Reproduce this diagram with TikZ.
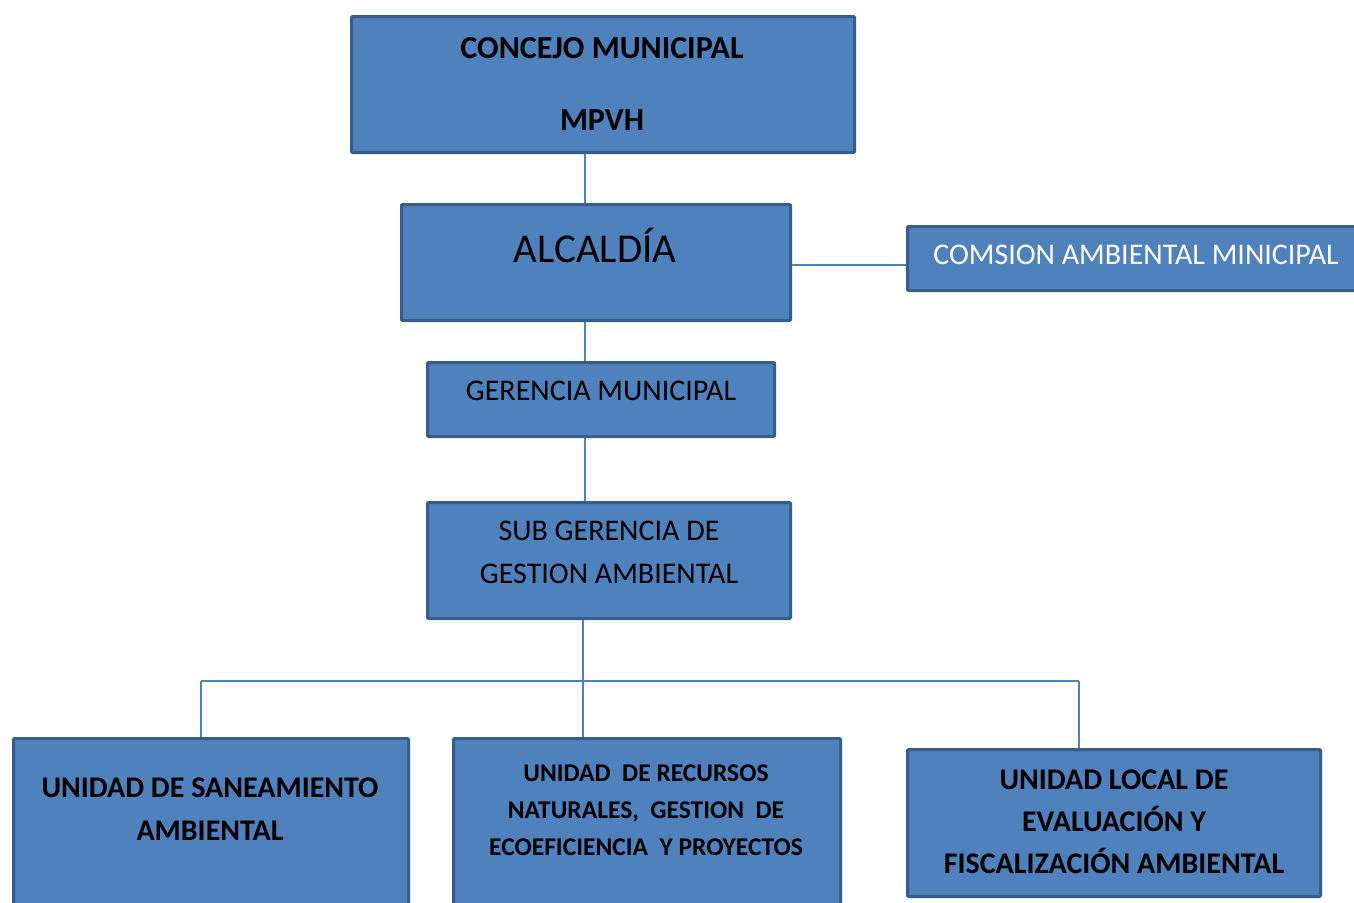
\documentclass[tikz,border=0pt]{standalone}
\usepackage{fontspec}
\setmainfont{Carlito}
\definecolor{boxfill}{HTML}{4F81BD}
\definecolor{boxline}{HTML}{385D8A}
\definecolor{linkline}{HTML}{4F81BD}

\begin{document}
\begin{tikzpicture}[x=1pt,y=-1pt,
  unitbox/.style={draw=boxline,fill=boxfill,line width=3pt,rounded corners=1pt,
    anchor=north west,inner sep=0pt},
  link/.style={draw=linkline,line width=1.5pt},
  boldtxt/.style={align=center,font=\fontsize{30}{43}\selectfont\bfseries},
  plaintxt/.style={align=center,font=\fontsize{30}{43}\selectfont}]

\useasboundingbox (0,0) rectangle (1354,902);

%% The boxes of the chart
\node [unitbox,minimum width=503pt,minimum height=136pt] (concejo) at (350,15) {};
\node [unitbox,minimum width=389pt,minimum height=116pt] (alcaldia) at (400,203) {};
\node [unitbox,minimum width=460pt,minimum height=64pt] (comision) at (906,225) {};
\node [unitbox,minimum width=347pt,minimum height=74pt] (gerencia) at (426,361) {};
\node [unitbox,minimum width=363pt,minimum height=116pt] (subgerencia) at (426,501) {};

% the three units at the bottom
\node [unitbox,minimum width=395pt,minimum height=180pt] (saneamiento) at (12,737) {};
\node [unitbox,minimum width=387pt,minimum height=180pt] (recursos) at (452,737) {};
\node [unitbox,minimum width=413pt,minimum height=147pt] (local) at (906,748) {};

%% The texts in the boxes
\node [boldtxt,font=\fontsize{32}{72}\selectfont\bfseries] (concejo-t) at (602,84) {CONCEJO MUNICIPAL\\MPVH};
\node [plaintxt,font=\fontsize{41}{50}\selectfont] (alcaldia-t) at (595,246) {ALCALDÍA};
\node [plaintxt,text=white] (comision-t) at (1136,255) {COMSION AMBIENTAL MINICIPAL};
\node [plaintxt] (gerencia-t) at (601,391) {GERENCIA MUNICIPAL};
\node [plaintxt] (subgerencia-t) at (609,552) {SUB GERENCIA DE\\GESTION AMBIENTAL};
\node [boldtxt] (saneamiento-t) at (210,809) {UNIDAD DE SANEAMIENTO\\AMBIENTAL};
\node [boldtxt,font=\fontsize{25.5}{37}\selectfont\bfseries] (recursos-t) at (646,810)
  {UNIDAD~ DE RECURSOS\\NATURALES,~ GESTION~ DE\\ECOEFICIENCIA~ Y PROYECTOS};
\node [boldtxt,font=\fontsize{30}{42}\selectfont\bfseries] (local-t) at (1114,822)
  {UNIDAD LOCAL DE\\EVALUACIÓN Y\\FISCALIZACIÓN AMBIENTAL};

%% The vertical line from the top
\coordinate (spine) at (585,0);
\draw [link] (concejo.south -| spine) -- (alcaldia.north -| spine);
\draw [link] (alcaldia.south -| spine) -- (gerencia.north -| spine);
\draw [link] (gerencia.south -| spine) -- (subgerencia.north -| spine);

%% The side line to the commission
\coordinate (side) at (0,265);
\draw [link] (alcaldia.east |- side) -- (comision.west |- side);

%% The bus to the three units
\coordinate (bus) at (583,681);
\coordinate (busL) at (201,681);
\coordinate (busR) at (1079,681);
\draw [link] (subgerencia.south -| bus) -- (bus);
\draw [link] (busL) -- (busR);
\draw [link] (busL) -- (busL |- saneamiento.north);
\draw [link] (bus) -- (bus |- recursos.north);
\draw [link] (busR) -- (busR |- local.north);

\end{tikzpicture}
\end{document}
